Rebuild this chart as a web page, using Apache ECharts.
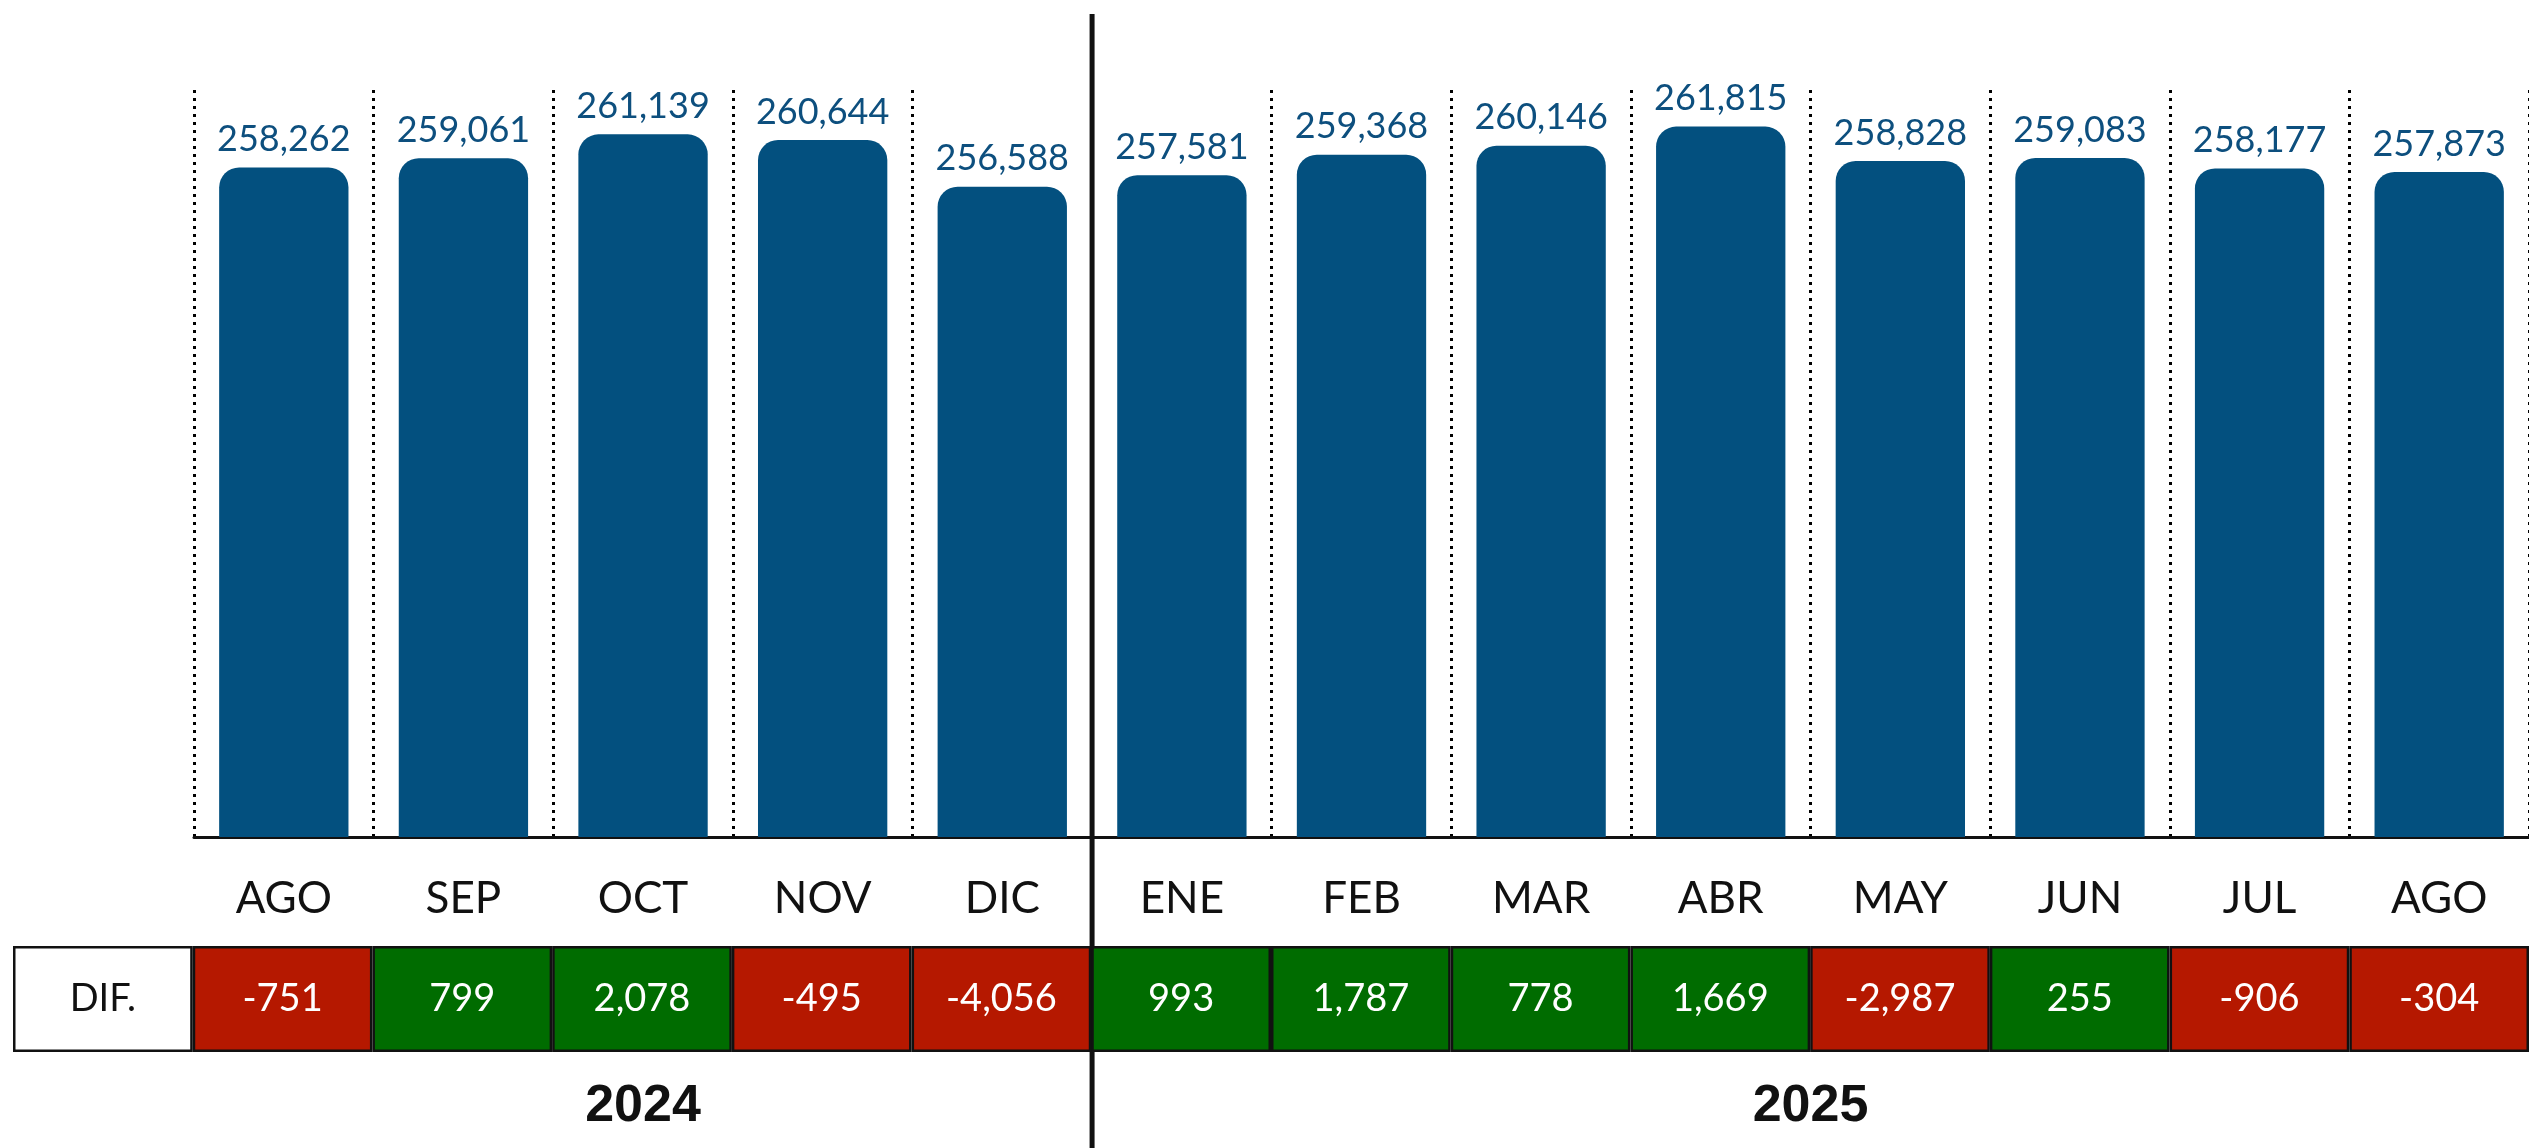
<!DOCTYPE html>
<html>
<head>
<meta charset="utf-8">
<script src="https://cdn.jsdelivr.net/npm/echarts@6/dist/echarts.min.js"></script>
<style>
    html, body { margin: 0; padding: 0; background: #ffffff; }
    #main { width: 2529px; height: 1148px; }
</style>
</head>
<body>
<div id="main"></div>
<script>
    // meses y valores
    const months = ['AGO', 'SEP', 'OCT', 'NOV', 'DIC', 'ENE', 'FEB', 'MAR', 'ABR', 'MAY', 'JUN', 'JUL', 'AGO '];
    const totals = [258262, 259061, 261139, 260644, 256588, 257581, 259368, 260146, 261815, 258828, 259083, 258177, 257873];
    const difs = [-751, 799, 2078, -495, -4056, 993, 1787, 778, 1669, -2987, 255, -906, -304];
    const years = ['2024', '2025'];
    const yearSpans = [5, 8]; // cuantos meses por año

    const chart = echarts.init(document.getElementById('main'));

    const fmt = v => v.toLocaleString('en-US');

    // fila de la tabla DIF.
    const tableCats = ['DIF.'].concat(months);
    const tableData = [{
        value: 1,
        itemStyle: { color: '#ffffff' },
        label: { color: '#111111', formatter: 'DIF.' }
    }].concat(difs.map(d => ({
        value: 1,
        itemStyle: { color: d < 0 ? '#b51800' : '#006c00' },
        label: { color: '#ffffff', formatter: fmt(d) }
    })));

    chart.setOption({
        animation: false,
        grid: [
            { left: 194, right: 0, top: 90, bottom: 311 },
            { left: 13, right: 0, top: 946, height: 106 }
        ],
        xAxis: [
            {
                type: 'category',
                gridIndex: 0,
                data: months,
                axisLine: { show: true, lineStyle: { color: '#111111', width: 3 } },
                axisTick: { show: false },
                axisLabel: {
                    margin: 40,
                    fontSize: 44,
                    color: '#111111',
                    fontFamily: 'Lato',
                    formatter: v => v.trim()
                },
                splitLine: {
                    show: true,
                    interval: 0,
                    lineStyle: { color: '#000000', width: 3, type: [3, 5] }
                }
            },
            {
                type: 'category',
                gridIndex: 1,
                data: tableCats,
                show: false
            }
        ],
        yAxis: [
            { type: 'value', gridIndex: 0, min: 200000, max: 265000, show: false },
            { type: 'value', gridIndex: 1, min: 0, max: 1, show: false }
        ],
        series: [
            {
                name: 'total',
                type: 'bar',
                xAxisIndex: 0,
                yAxisIndex: 0,
                data: totals,
                barWidth: '72%',
                itemStyle: { color: '#03507f', borderRadius: [20, 20, 0, 0] },
                label: {
                    show: true,
                    position: 'top',
                    distance: 10,
                    fontSize: 36,
                    fontFamily: 'Lato',
                    color: '#0d4f7e',
                    formatter: p => fmt(p.value)
                }
            },
            {
                name: 'dif',
                type: 'bar',
                xAxisIndex: 1,
                yAxisIndex: 1,
                data: tableData,
                barWidth: '100%',
                itemStyle: { borderColor: '#111111', borderWidth: 2.5 },
                label: {
                    show: true,
                    position: 'inside',
                    fontSize: 38,
                    fontFamily: 'Lato'
                }
            }
        ]
    });

    // línea divisoria entre años y etiquetas de año
    const xs = months.map(m => chart.convertToPixel({ xAxisIndex: 0 }, m));
    const half = (xs[1] - xs[0]) / 2;
    const splitX = xs[yearSpans[0] - 1] + half;
    const graphics = [{
        type: 'line',
        shape: { x1: splitX, y1: 14, x2: splitX, y2: 1148 },
        style: { stroke: '#111111', lineWidth: 5 }
    }];
    let start = 0;
    years.forEach((y, i) => {
        const end = start + yearSpans[i] - 1;
        const cx = (xs[start] - half + Math.min(xs[end] + half, 2529)) / 2;
        graphics.push({
            type: 'text',
            x: cx,
            y: 1107,
            style: {
                text: y,
                fontSize: 52,
                fontWeight: 'bold',
                fontFamily: 'Liberation Sans',
                fill: '#111111',
                align: 'center',
                verticalAlign: 'middle'
            }
        });
        start = end + 1;
    });
    chart.setOption({ graphic: graphics });
</script>
</body>
</html>
